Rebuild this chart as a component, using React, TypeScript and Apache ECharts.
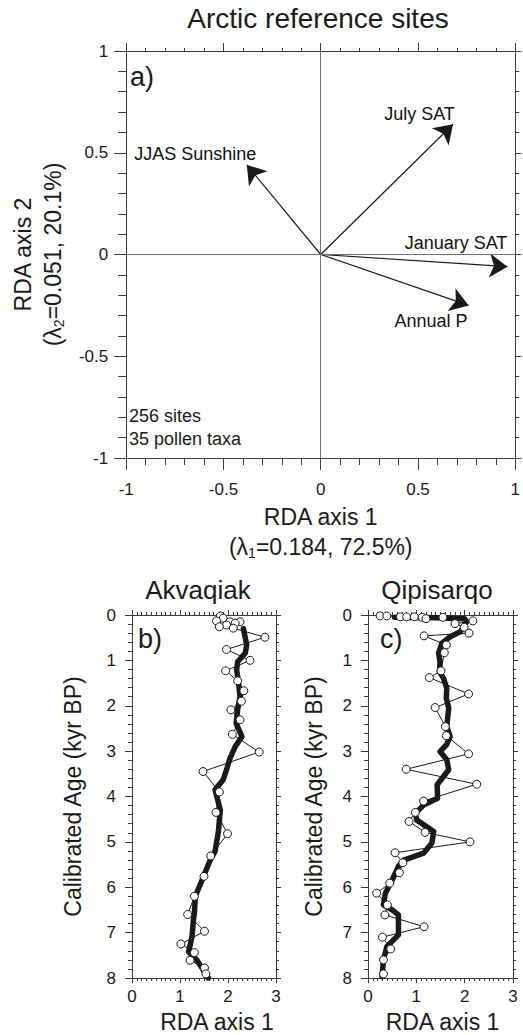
import React, { useEffect, useRef } from 'react';
import * as echarts from 'echarts';

const FONT = '"Liberation Sans", Arial, Helvetica, sans-serif';
const INK = '#1a1a1a';
const AXIS = '#3a3a3a';

// Panel a) RDA biplot vectors
const vectorNames = ['JJAS Sunshine', 'July SAT', 'January SAT', 'Annual P'];
const vectorX = [-0.38, 0.68, 0.96, 0.76];
const vectorY = [0.44, 0.64, -0.06, -0.25];
const biplotTicks = [-1, -0.5, 0, 0.5, 1];

// Panel b) Akvaqiak: raw samples
const akvAge = [0.02, 0.07, 0.13, 0.15, 0.15, 0.18, 0.22, 0.26, 0.29, 0.49, 0.76, 1.0, 1.23, 1.45, 1.67, 1.9, 2.09, 2.31, 2.63, 3.02, 3.45, 3.9, 4.35, 4.82, 5.31, 5.76, 6.2, 6.6, 6.97, 7.25, 7.44, 7.61, 7.78, 7.91];
const akvRda = [1.84, 1.9, 1.76, 2.04, 2.25, 2.15, 1.97, 1.82, 2.11, 2.77, 1.97, 2.46, 1.95, 2.2, 2.33, 2.28, 2.06, 2.25, 2.09, 2.65, 1.48, 1.82, 1.75, 1.99, 1.64, 1.5, 1.3, 1.16, 1.51, 1.02, 1.3, 1.21, 1.51, 1.54];
// Akvaqiak: smoothed curve
const akvSmoothAge = [0.3, 0.66, 0.84, 1.03, 1.21, 1.5, 1.8, 2.09, 2.39, 2.68, 2.9, 3.16, 3.41, 3.63, 3.85, 4.3, 4.77, 5.21, 5.4, 5.84, 6.2, 6.57, 6.72, 7.09, 7.42, 7.6, 8.0];
const akvSmoothRda = [2.32, 2.39, 2.36, 2.2, 2.18, 2.22, 2.25, 2.2, 2.17, 2.29, 2.15, 2.04, 1.97, 1.9, 1.73, 1.84, 1.8, 1.73, 1.63, 1.46, 1.32, 1.3, 1.28, 1.25, 1.18, 1.35, 1.59];

// Panel c) Qipisarqo: raw samples
const qipAge = [0.02, 0.02, 0.04, 0.04, 0.04, 0.05, 0.08, 0.05, 0.13, 0.19, 0.27, 0.4, 0.46, 0.66, 0.83, 1.23, 1.38, 1.74, 2.04, 2.46, 2.66, 3.06, 3.4, 3.73, 4.1, 4.35, 4.55, 4.79, 5.0, 5.24, 5.46, 5.68, 5.91, 6.13, 6.39, 6.61, 6.87, 7.1, 7.36, 7.6, 7.91];
const qipRda = [0.25, 0.39, 0.67, 0.8, 0.96, 1.12, 1.2, 1.55, 2.17, 1.8, 1.99, 2.09, 1.16, 1.62, 1.58, 1.51, 1.27, 2.08, 1.39, 1.6, 1.62, 2.08, 0.79, 2.25, 1.15, 0.98, 0.85, 1.18, 2.11, 0.56, 0.72, 0.65, 0.45, 0.18, 0.4, 0.35, 1.16, 0.3, 0.47, 0.32, 0.32];
// Qipisarqo: smoothed curve
const qipSmoothAge = [0.05, 0.06, 0.08, 0.15, 0.37, 0.48, 0.62, 0.84, 1.03, 1.25, 1.39, 1.61, 1.83, 2.05, 2.46, 2.68, 2.85, 3.01, 3.19, 3.41, 3.74, 4.04, 4.19, 4.37, 4.52, 4.77, 5.03, 5.25, 5.4, 5.54, 5.84, 6.13, 6.39, 6.5, 6.61, 7.05, 7.31, 7.6, 7.97];
const qipSmoothRda = [0.55, 1.4, 2.0, 2.04, 1.91, 1.7, 1.53, 1.46, 1.49, 1.48, 1.56, 1.63, 1.62, 1.67, 1.63, 1.7, 1.63, 1.49, 1.63, 1.67, 1.43, 1.44, 1.15, 0.98, 1.01, 1.36, 1.32, 1.15, 0.74, 0.63, 0.5, 0.36, 0.32, 0.5, 0.63, 0.63, 0.39, 0.32, 0.29];

// label placement (style only)
const vectorLabelOffset = [[-51, -10], [-33, -10], [-51, -23], [-37, 16]];

const pairs = (xs: number[], ys: number[]) => xs.map((x, i) => [x, ys[i]]);

const subRich = {
  sub: { fontSize: 14, fontFamily: FONT, color: INK, padding: [12, 0, 0, 0] },
};

function buildOption() {
  const lineStyle = { color: AXIS, width: 1 };
  const labelStyle = { color: INK, fontFamily: FONT, fontSize: 17 };

  const bottomX = (grid: number, padLeft: number) => ({
    type: 'value', gridIndex: grid, position: 'bottom', min: 0, max: 3, interval: 1,
    axisLine: { show: true, onZero: false, lineStyle },
    axisTick: { show: true, length: 5, lineStyle },
    minorTick: { show: true, splitNumber: 10, length: 3, lineStyle },
    splitLine: { show: false }, minorSplitLine: { show: false },
    axisLabel: { ...labelStyle, margin: 10 },
    name: 'RDA axis 1', nameLocation: 'middle', nameGap: 32,
    nameTextStyle: { fontSize: 23, color: INK, fontFamily: FONT, padding: [0, 0, 0, padLeft] },
  });
  const topX = (grid: number) => ({
    type: 'value', gridIndex: grid, position: 'top', min: 0, max: 3, interval: 1,
    axisLine: { show: true, onZero: false, lineStyle },
    axisTick: { show: true, length: 5, lineStyle },
    minorTick: { show: true, splitNumber: 10, length: 3, lineStyle },
    splitLine: { show: false }, axisLabel: { show: false },
  });
  const leftY = (grid: number, gap: number) => ({
    type: 'value', gridIndex: grid, position: 'left', min: 0, max: 8, interval: 1, inverse: true,
    axisLine: { show: true, onZero: false, lineStyle },
    axisTick: { show: true, length: 7, lineStyle },
    minorTick: { show: true, splitNumber: 5, length: 4, lineStyle },
    splitLine: { show: false },
    axisLabel: { ...labelStyle, margin: 16 },
    name: 'Calibrated Age (kyr BP)', nameLocation: 'middle', nameGap: gap, nameRotate: 90,
    nameTextStyle: { fontSize: 23, color: INK, fontFamily: FONT },
  });
  const rightY = (grid: number) => ({
    type: 'value', gridIndex: grid, position: 'right', min: 0, max: 8, interval: 1, inverse: true,
    axisLine: { show: true, onZero: false, lineStyle },
    axisTick: { show: true, length: 5, lineStyle },
    minorTick: { show: true, splitNumber: 5, length: 3, lineStyle },
    splitLine: { show: false }, axisLabel: { show: false },
  });

  const thick = (xi: number, xs: number[], ys: number[]) => ({
    type: 'line', xAxisIndex: xi, yAxisIndex: xi, data: pairs(xs, ys),
    showSymbol: false, symbol: 'none', z: 2,
    lineStyle: { color: INK, width: 5.5, join: 'round', cap: 'round' },
  });
  const thin = (xi: number, xs: number[], ys: number[]) => ({
    type: 'line', xAxisIndex: xi, yAxisIndex: xi, data: pairs(xs, ys), z: 3,
    symbol: 'circle', symbolSize: 8, showSymbol: true,
    itemStyle: { color: '#ffffff', borderColor: INK, borderWidth: 1 },
    lineStyle: { color: INK, width: 1 },
  });

  const vLabel = {
    show: true, position: [0, 0], align: 'center', verticalAlign: 'middle',
    formatter: '{b}', color: '#111111', opacity: 1, fontFamily: FONT, fontSize: 18,
    textBorderWidth: 0, textShadowBlur: 0,
  };

  return {
    animation: false,
    backgroundColor: '#ffffff',
    textStyle: { fontFamily: FONT },
    grid: [
      { left: 115, top: 51, width: 407, height: 407 },
      { left: 132, top: 615, width: 144, height: 363 },
      { left: 368, top: 615, width: 145, height: 363 },
    ],
    xAxis: [
      {
        type: 'value', gridIndex: 0, position: 'bottom', min: biplotTicks[0], max: biplotTicks[4], interval: 0.5,
        axisLine: { show: true, onZero: false, lineStyle },
        axisTick: { show: true, length: 12, lineStyle },
        minorTick: { show: true, splitNumber: 5, length: 7, lineStyle },
        splitLine: { show: false },
        axisLabel: { ...labelStyle, margin: 23 },
        name: 'RDA axis 1\n(λ{sub|1}=0.184, 72.5%)', nameLocation: 'middle', nameGap: 44,
        nameTextStyle: { fontSize: 23, lineHeight: 30, color: INK, fontFamily: FONT, rich: subRich },
      },
      {
        type: 'value', gridIndex: 0, position: 'top', min: -1, max: 1, interval: 0.5,
        axisLine: { show: true, onZero: false, lineStyle },
        axisTick: { show: true, length: 8, lineStyle },
        minorTick: { show: true, splitNumber: 5, length: 3, lineStyle },
        splitLine: { show: false }, axisLabel: { show: false },
      },
      bottomX(1, 26), topX(1), bottomX(2, 4), topX(2),
    ],
    yAxis: [
      {
        type: 'value', gridIndex: 0, position: 'left', min: -1, max: 1, interval: 0.5,
        axisLine: { show: true, onZero: false, lineStyle },
        axisTick: { show: true, length: 12, lineStyle },
        minorTick: { show: true, splitNumber: 5, length: 8, lineStyle },
        splitLine: { show: false },
        axisLabel: { ...labelStyle, margin: 18 },
        name: 'RDA axis 2\n(λ{sub|2}=0.051, 20.1%)', nameLocation: 'middle', nameGap: 56,
        nameTextStyle: { fontSize: 23, lineHeight: 30, color: INK, fontFamily: FONT, rich: subRich },
      },
      {
        type: 'value', gridIndex: 0, position: 'right', min: -1, max: 1, interval: 0.5,
        axisLine: { show: true, onZero: false, lineStyle },
        axisTick: { show: true, length: 6, lineStyle },
        minorTick: { show: true, splitNumber: 5, length: 4, lineStyle },
        splitLine: { show: false }, axisLabel: { show: false },
      },
      leftY(1, 48), rightY(1), leftY(2, 43), rightY(2),
    ],
    series: [
      {
        type: 'scatter', xAxisIndex: 0, yAxisIndex: 0, symbolSize: 1, z: 1,
        itemStyle: { color: '#ffffff' },
        data: vectorX.map((x, i) => ({
          name: vectorNames[i], value: [x, vectorY[i]],
          label: { ...vLabel, offset: vectorLabelOffset[i] },
        })),
        label: vLabel,
        emphasis: { disabled: true },
        markLine: {
          silent: true, symbol: ['none', 'none'], label: { show: false },
          lineStyle: { color: '#707070', width: 1, type: 'solid' },
          data: [{ xAxis: 0 }, { yAxis: 0 }],
        },
      },
      {
        type: 'lines', coordinateSystem: 'cartesian2d', xAxisIndex: 0, yAxisIndex: 0, z: 3,
        symbol: ['none', 'arrow'], symbolSize: [13, 18],
        lineStyle: { color: INK, width: 1.2, opacity: 1 },
        data: vectorX.map((x, i) => ({ coords: [[0, 0], [x, vectorY[i]]] })),
      },
      thick(2, akvSmoothRda, akvSmoothAge),
      thin(2, akvRda, akvAge),
      thick(4, qipSmoothRda, qipSmoothAge),
      thin(4, qipRda, qipAge),
    ],
    graphic: [
      { type: 'text', x: 318, y: 18, style: { text: 'Arctic reference sites', fontSize: 28, fontFamily: FONT, fill: INK, align: 'center', verticalAlign: 'middle' } },
      { type: 'text', x: 130, y: 77, style: { text: 'a)', fontSize: 27, fontFamily: FONT, fill: INK, align: 'left', verticalAlign: 'middle' } },
      { type: 'text', x: 129, y: 404, style: { text: '256 sites\n35 pollen taxa', fontSize: 18, lineHeight: 23, fontFamily: FONT, fill: INK, align: 'left', verticalAlign: 'top' } },
      { type: 'text', x: 198, y: 590, style: { text: 'Akvaqiak', fontSize: 26, fontFamily: FONT, fill: INK, align: 'center', verticalAlign: 'middle' } },
      { type: 'text', x: 437, y: 590, style: { text: 'Qipisarqo', fontSize: 26, fontFamily: FONT, fill: INK, align: 'center', verticalAlign: 'middle' } },
      { type: 'text', x: 138, y: 639, style: { text: 'b)', fontSize: 27, fontFamily: FONT, fill: INK, align: 'left', verticalAlign: 'middle' } },
      { type: 'text', x: 380, y: 639, style: { text: 'c)', fontSize: 27, fontFamily: FONT, fill: INK, align: 'left', verticalAlign: 'middle' } },
    ],
  };
}

export default function App() {
  const ref = useRef<HTMLDivElement>(null);
  useEffect(() => {
    if (!ref.current) return;
    const chart = echarts.init(ref.current, undefined, { renderer: 'svg' });
    chart.setOption(buildOption() as any);
    return () => chart.dispose();
  }, []);
  return (
    <div
      ref={ref}
      style={{ position: 'fixed', left: 0, top: 0, width: 523, height: 1035, background: '#fff' }}
    />
  );
}
